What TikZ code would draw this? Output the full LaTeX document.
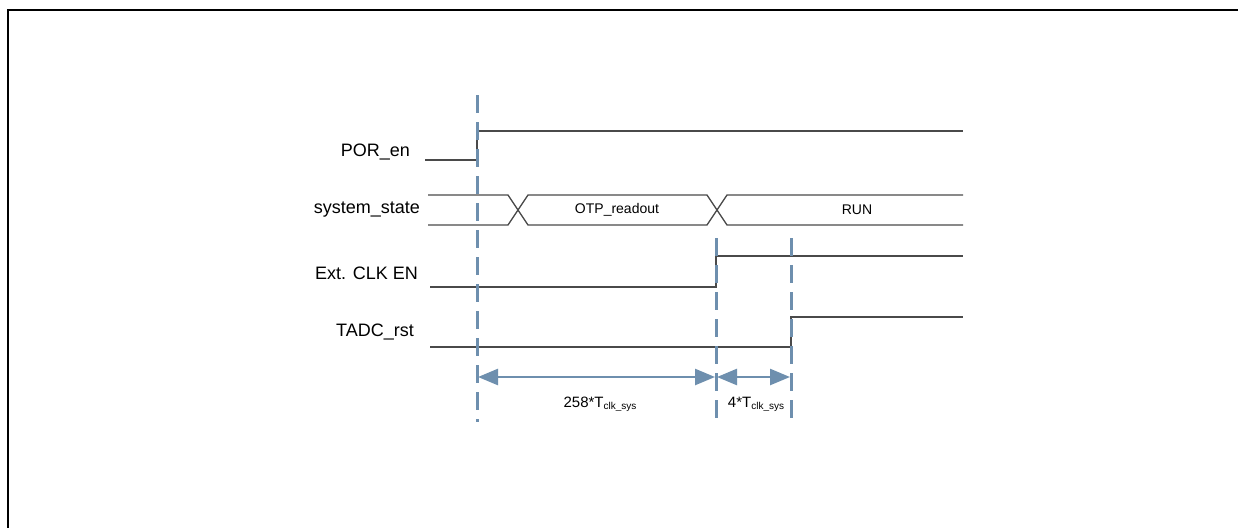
\documentclass[tikz,border=0pt]{standalone}
\usepackage{fontspec}
\setmainfont{Liberation Sans}
\usetikzlibrary{arrows.meta}
\definecolor{dashblue}{HTML}{6E8FAE}
\definecolor{sig}{HTML}{4A4A4A}
\begin{document}
\begin{tikzpicture}[x=1pt,y=-1pt,
  sigline/.style={draw=sig,line width=1.3pt},
  guide/.style={draw=dashblue,line width=3pt,dash pattern=on 18pt off 9pt},
  dim/.style={draw=dashblue,line width=2.5pt,{Triangle[length=20pt,width=16pt]}-{Triangle[length=20pt,width=16pt]}},
  lbl/.style={font=\fontsize{18}{20}\selectfont,anchor=east,inner sep=0pt},
  state/.style={font=\fontsize{14}{16}\selectfont,inner sep=0pt},
  tlab/.style={font=\fontsize{15}{17}\selectfont,inner sep=0pt}]
\useasboundingbox (0,0) rectangle (1238,527);
\fill[white] (0,0) rectangle (1238,527);
% frame
\draw[line width=2.2pt] (8,560) -- (8,10) -- (1260,10);
% labels
\node[lbl] (por) at (410,152) {POR\_en};
\node[lbl] (sys) at (420,210) {system\_state};
\node[lbl] (ext) at (418,273) {Ext. CLK EN};
\node[lbl] (tadc) at (414,332) {TADC\_rst};
% guide coordinates
\coordinate (g1t) at (477,95);  \coordinate (g1b) at (477,422);
\coordinate (g2t) at (716,238); \coordinate (g2b) at (716,422);
\coordinate (g3t) at (791,238); \coordinate (g3b) at (791,422);
% POR_en
\draw[sigline] (425,160) -- (477,160) -- (477,131) -- (963,131);
% system_state bus
\draw[sigline] (428,195) -- (508,195) -- (528,225) -- (707,225) -- (727,195) -- (963,195);
\draw[sigline] (428,225) -- (508,225) -- (528,195) -- (707,195) -- (727,225) -- (963,225);
\node[state] (otp) at (617,210) {OTP\_readout};
\node[state] (run) at (857,210) {RUN};
% Ext CLK EN
\draw[sigline] (430,287) -- (716,287) -- (716,256) -- (963,256);
% TADC_rst
\draw[sigline] (430,347) -- (791,347) -- (791,317) -- (963,317);
% guides
\draw[guide] (g1t) -- (g1b);
\draw[guide] (g2t) -- (g2b);
\draw[guide] (g3t) -- (g3b);
% dimension arrows
\coordinate (a1) at (478,377); \coordinate (a2) at (715,377);
\coordinate (a3) at (717,377); \coordinate (a4) at (790,377);
\draw[dim] (a1) -- (a2);
\draw[dim] (a3) -- (a4);
\node[tlab] (t1) at (600,404) {258*T\raisebox{-2pt}{\fontsize{10}{12}\selectfont clk\_sys}};
\node[tlab] (t2) at (756,404) {4*T\raisebox{-2pt}{\fontsize{10}{12}\selectfont clk\_sys}};
\end{tikzpicture}
\end{document}
